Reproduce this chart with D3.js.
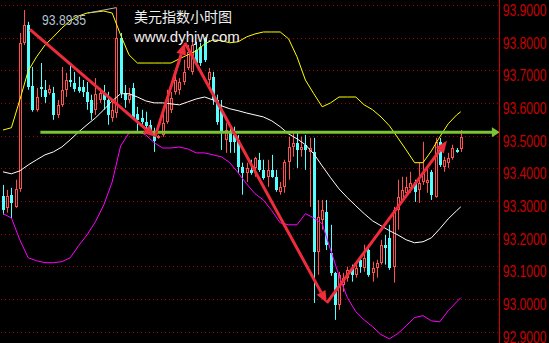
<!DOCTYPE html>
<html>
<head>
<meta charset="utf-8">
<script src="https://d3js.org/d3.v7.min.js"></script>
<style>
  html, body { margin: 0; padding: 0; background: #000; }
  svg { display: block; }
</style>
</head>
<body>
<svg id="viz" width="549" height="343"></svg>
<script>
var width = 549;
var height = 343;

// hourly candles (left to right)
var open = [93.318,93.281,93.321,93.284,93.339,93.786,93.841,93.654,93.581,93.651,
93.642,93.633,93.633,93.565,93.596,93.642,93.672,93.663,93.651,93.651,
93.636,93.611,93.581,93.611,93.633,93.611,93.556,93.571,93.801,93.633,
93.611,93.648,93.568,93.556,93.544,93.535,93.516,93.495,93.504,93.544,
93.581,93.636,93.642,93.666,93.709,93.697,93.764,93.773,93.801,93.672,
93.682,93.611,93.581,93.489,93.510,93.504,93.489,93.406,93.388,93.397,
93.403,93.428,93.397,93.376,93.397,93.376,93.330,93.345,93.422,93.467,
93.480,93.458,93.474,93.452,93.452,93.146,93.244,93.269,93.143,93.082,
92.984,93.045,93.067,93.097,93.076,93.122,93.097,93.152,93.082,93.097,
93.113,93.168,93.189,93.101,93.275,93.305,93.327,93.342,93.360,93.336,
93.360,93.357,93.391,93.315,93.483,93.406,93.419,93.434,93.458,93.461];

var close = [93.275,93.318,93.296,93.339,93.786,93.841,93.651,93.581,93.620,93.645,
93.620,93.645,93.565,93.596,93.642,93.672,93.666,93.645,93.639,93.636,
93.605,93.571,93.630,93.633,93.611,93.565,93.581,93.801,93.633,93.611,
93.627,93.556,93.550,93.544,93.532,93.516,93.486,93.501,93.541,93.620,
93.617,93.672,93.666,93.697,93.758,93.779,93.724,93.724,93.734,93.697,
93.611,93.544,93.510,93.519,93.483,93.483,93.406,93.388,93.403,93.388,
93.434,93.397,93.373,93.397,93.376,93.336,93.345,93.422,93.467,93.480,
93.458,93.467,93.458,93.464,93.146,93.253,93.275,93.168,93.082,92.984,
93.076,93.067,93.091,93.076,93.097,93.101,93.128,93.076,93.097,93.113,
93.168,93.159,93.097,93.275,93.315,93.336,93.345,93.357,93.330,93.357,
93.391,93.367,93.321,93.483,93.412,93.428,93.434,93.464,93.452,93.498];

var high = [93.351,93.336,93.342,93.367,93.816,93.886,93.850,93.712,93.648,93.724,
93.672,93.657,93.651,93.611,93.712,93.694,93.724,93.697,93.682,93.672,
93.666,93.627,93.678,93.648,93.657,93.636,93.611,93.8935,93.816,93.657,
93.648,93.663,93.590,93.581,93.575,93.550,93.526,93.504,93.581,93.642,
93.636,93.688,93.678,93.734,93.779,93.801,93.789,93.786,93.804,93.709,
93.697,93.627,93.611,93.541,93.529,93.529,93.504,93.419,93.419,93.428,
93.437,93.449,93.428,93.428,93.443,93.397,93.360,93.428,93.498,93.510,
93.510,93.498,93.504,93.495,93.495,93.305,93.305,93.305,93.229,93.085,
93.085,93.082,93.101,93.107,93.107,93.131,93.168,93.168,93.116,93.122,
93.183,93.198,93.229,93.284,93.367,93.376,93.376,93.391,93.367,93.419,
93.483,93.412,93.397,93.495,93.495,93.437,93.449,93.474,93.464,93.519];

var low = [93.260,93.266,93.250,93.281,93.330,93.779,93.642,93.575,93.575,93.620,
93.602,93.627,93.550,93.556,93.590,93.620,93.651,93.636,93.633,93.620,
93.581,93.550,93.565,93.602,93.581,93.535,93.544,93.556,93.617,93.587,
93.602,93.550,93.510,93.535,93.519,93.507,93.452,93.492,93.498,93.538,
93.571,93.627,93.627,93.657,93.703,93.688,93.715,93.715,93.727,93.657,
93.596,93.535,93.458,93.449,93.449,93.449,93.388,93.321,93.360,93.382,
93.376,93.391,93.367,93.345,93.373,93.330,93.321,93.327,93.367,93.437,
93.403,93.437,93.397,93.284,92.990,93.076,93.214,93.152,93.073,92.938,
92.969,93.024,93.055,93.055,93.067,93.082,93.085,93.070,93.055,93.067,
93.107,93.107,93.091,93.052,93.214,93.296,93.315,93.327,93.299,93.296,
93.351,93.327,93.305,93.312,93.406,93.391,93.403,93.428,93.449,93.452];

// bollinger bands, read every second candle
var bandIdx = [0,2,4,6,8,10,12,14,16,18,20,22,24,26,28,30,32,34,36,38,40,42,44,46,48,50,
52,54,56,58,60,62,64,66,68,70,72,74,76,78,80,82,84,86,88,90,92,94,96,98,100,102,104,106,108,109];
var upper = [93.519,93.526,93.611,93.700,93.743,93.779,93.804,93.831,93.853,93.868,93.877,93.880,93.883,93.877,
93.810,93.749,93.724,93.724,93.724,93.724,93.724,93.737,93.749,93.761,93.782,93.795,93.792,93.786,93.789,
93.804,93.813,93.819,93.819,93.819,93.798,93.743,93.672,93.630,93.590,93.602,93.620,93.620,93.620,93.596,
93.581,93.559,93.532,93.495,93.458,93.419,93.419,93.455,93.498,93.538,93.565,93.575];
var middle = [93.391,93.385,93.394,93.412,93.428,93.443,93.452,93.467,93.489,93.513,93.535,93.556,93.581,93.608,
93.630,93.630,93.620,93.608,93.602,93.602,93.599,93.596,93.605,93.614,93.620,93.611,93.593,93.584,93.578,
93.571,93.565,93.559,93.547,93.529,93.507,93.492,93.474,93.446,93.409,93.373,93.339,93.312,93.287,93.263,
93.241,93.226,93.211,93.198,93.183,93.174,93.177,93.189,93.217,93.247,93.272,93.284];
var lower = [93.263,93.250,93.183,93.128,93.119,93.113,93.113,93.116,93.128,93.165,93.198,93.238,93.290,93.360,
93.470,93.510,93.516,93.504,93.480,93.464,93.464,93.467,93.461,93.449,93.449,93.443,93.437,93.419,93.388,
93.354,93.324,93.305,93.272,93.235,93.229,93.229,93.263,93.250,93.232,93.152,93.073,93.006,92.963,92.938,
92.917,92.893,92.880,92.896,92.920,92.945,92.951,92.935,92.932,92.966,92.993,93.006];

var ticks = [92.9,93.0,93.1,93.2,93.3,93.4,93.5,93.6,93.7,93.8,93.9];

// hand-drawn objects: [candle index, price]
var trendPoints = [[6.4,93.827],[36.2,93.498],[43.3,93.786],[77.1,92.990],[105.7,93.486]];
var levelPrice = 93.512;
var levelFrom = 8.9;
var levelTo = 118.3;

var title = "美元指数小时图";
var site = "www.dyhjw.com";

var upColor = "#ff4f4f";
var downColor = "#54ffff";

var svg = d3.select("#viz");
svg.append("rect").attr("width", width).attr("height", height).attr("fill", "#000");

var x = d3.scaleLinear().domain([0, 109]).range([3, 460.8]);
var y = d3.scaleLinear().domain([92.9, 93.9]).range([332.3, 5.5]);

// dotted grid
svg.append("g").selectAll("line").data(ticks).enter().append("line")
    .attr("x1", 1).attr("x2", 499)
    .attr("y1", function(d) { return Math.floor(y(d)) + 0.5; })
    .attr("y2", function(d) { return Math.floor(y(d)) + 0.5; })
    .attr("stroke", "#a80000")
    .attr("stroke-dasharray", "1,3");

// candles
var candles = d3.range(open.length).map(function(i) {
    return {i: i, o: open[i], c: close[i], h: high[i], l: low[i], up: close[i] >= open[i]};
});
var cg = svg.append("g");
var cand = cg.selectAll("g").data(candles).enter().append("g");
cand.each(function(d) {
    var g = d3.select(this);
    var cx = Math.round(x(d.i));
    var top = Math.round(y(Math.max(d.o, d.c)));
    var bot = Math.round(y(Math.min(d.o, d.c)));
    var col = d.up ? upColor : downColor;
    if (d.up) {
        g.append("line").attr("x1", cx + 0.5).attr("x2", cx + 0.5)
            .attr("y1", y(d.h)).attr("y2", top).attr("stroke", col);
        g.append("line").attr("x1", cx + 0.5).attr("x2", cx + 0.5)
            .attr("y1", bot).attr("y2", y(d.l)).attr("stroke", col);
        g.append("rect").attr("x", cx - 0.5).attr("y", top + 0.5)
            .attr("width", 2).attr("height", Math.max(0, bot - top - 1))
            .attr("fill", "#000").attr("stroke", col);
    } else {
        g.append("line").attr("x1", cx + 0.5).attr("x2", cx + 0.5)
            .attr("y1", y(d.h)).attr("y2", y(d.l)).attr("stroke", col);
        g.append("rect").attr("x", cx - 1).attr("y", top)
            .attr("width", 3).attr("height", Math.max(1, bot - top))
            .attr("fill", col);
    }
});

// bands
function band(vals, color) {
    var line = d3.line()
        .x(function(d, k) { return x(bandIdx[k]); })
        .y(function(d) { return y(d); });
    svg.append("path").datum(vals).attr("d", line)
        .attr("fill", "none").attr("stroke", color).attr("stroke-width", 1);
}
band(upper, "#ffff00");
band(middle, "#ffffff");
band(lower, "#ff00ff");

// green level arrow
var gy = y(levelPrice);
svg.append("line").attr("x1", x(levelFrom)).attr("x2", x(levelTo) - 6)
    .attr("y1", gy).attr("y2", gy)
    .attr("stroke", "#7cc431").attr("stroke-width", 3);
svg.append("path")
    .attr("d", "M" + (x(levelTo) - 8) + "," + (gy - 5) + "L" + x(levelTo) + "," + gy +
        "L" + (x(levelTo) - 8) + "," + (gy + 5) + "Z")
    .attr("fill", "#7cc431");

// red trend arrows
var ag = svg.append("g");
for (var k = 0; k < trendPoints.length - 1; k++) {
    var x0 = x(trendPoints[k][0]), y0 = y(trendPoints[k][1]);
    var x1 = x(trendPoints[k + 1][0]), y1 = y(trendPoints[k + 1][1]);
    var ang = Math.atan2(y1 - y0, x1 - x0);
    var len = 12, hw = 5;
    var bx = x1 - len * Math.cos(ang), by = y1 - len * Math.sin(ang);
    ag.append("line").attr("x1", x0).attr("y1", y0).attr("x2", bx).attr("y2", by)
        .attr("stroke", "#ee2c3c").attr("stroke-width", 3);
    ag.append("path")
        .attr("d", "M" + x1 + "," + y1 +
            "L" + (bx + hw * Math.sin(ang)) + "," + (by - hw * Math.cos(ang)) +
            "L" + (bx - hw * Math.sin(ang)) + "," + (by + hw * Math.cos(ang)) + "Z")
        .attr("fill", "#ee2c3c");
}

// max marker
var maxI = d3.maxIndex(high);
svg.append("line").attr("x1", 88).attr("y1", 13)
    .attr("x2", x(maxI)).attr("y2", y(high[maxI]))
    .attr("stroke", "#b8b8b8");
svg.append("text")
    .attr("transform", "translate(42,25) scale(0.87,1)")
    .attr("fill", "#b4c2d4")
    .style("font-family", "'Liberation Sans', Arial, sans-serif")
    .style("font-size", "14px")
    .text(d3.format(".4f")(high[maxI]));

// watermark
svg.append("text").attr("x", 134).attr("y", 22)
    .attr("fill", "#f0f0f0")
    .style("font-family", "'Noto Sans CJK SC', sans-serif")
    .style("font-size", "14px")
    .text(title);
svg.append("text").attr("x", 134).attr("y", 42)
    .attr("fill", "#f0f0f0")
    .style("font-family", "'Liberation Sans', Arial, sans-serif")
    .style("font-size", "15px")
    .text(site);

// price axis
svg.append("line").attr("x1", 499.5).attr("x2", 499.5).attr("y1", 0).attr("y2", height)
    .attr("stroke", "#d80000");
var axis = d3.axisRight(y).tickValues(ticks).tickSize(0).tickFormat(d3.format(".4f"));
var axg = svg.append("g").attr("transform", "translate(499,0)").call(axis);
axg.select(".domain").remove();
axg.attr("font-family", "'Liberation Sans', Arial, sans-serif").attr("font-size", 16);
axg.selectAll("text")
    .attr("x", null).attr("dy", null).attr("y", null)
    .attr("transform", "translate(3.7,10) scale(0.76,1)")
    .attr("text-anchor", "start")
    .attr("fill", "#c80000");
</script>
</body>
</html>
